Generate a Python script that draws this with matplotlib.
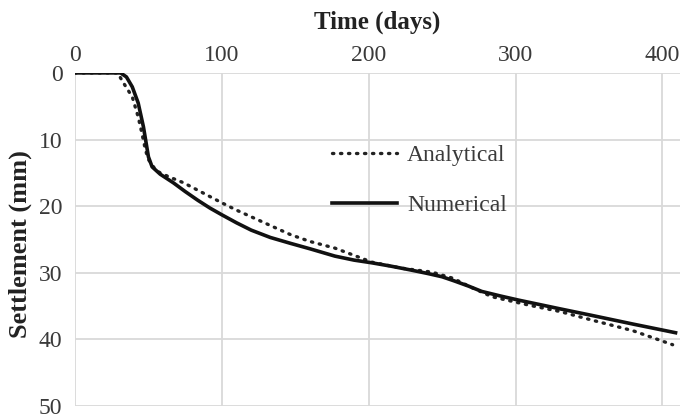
import numpy as np
import matplotlib
matplotlib.use('Agg')
import matplotlib.pyplot as plt

# data
num_days = [0, 20, 31, 35, 39, 43, 46.6, 50, 52.5, 58, 67, 75, 83.5, 92, 100, 110, 120, 133, 147, 160, 177, 190, 202,
	215, 229, 240, 250, 258, 268, 277, 290, 302, 330, 352, 380, 409]
num_settl = [0, 0, 0, 0.6, 2.1, 4.5, 8.1, 12.6, 14.1, 15.2, 16.5, 17.8, 19.1, 20.3, 21.3, 22.5, 23.6, 24.7, 25.6, 26.4, 27.5, 28.1, 28.5,
	29.0, 29.6, 30.1, 30.6, 31.2, 32.0, 32.8, 33.5, 34.1, 35.4, 36.4, 37.7, 39.0]

ana_days = [0, 20, 29, 33, 39, 43, 45.5, 48, 50, 55, 58, 64, 74, 87, 100, 110, 120, 133, 147, 160, 177, 195, 202,
	222, 243, 257, 270, 284, 310, 330, 352, 380, 407]
ana_settl = [0, 0, 0, 1.5, 3.6, 6.6, 9.0, 11.6, 13.0, 14.6, 15.0, 15.6, 16.5, 18.0, 19.5, 20.6, 21.6, 22.9, 24.3, 25.3, 26.3, 27.8, 28.4,
	29.3, 29.9, 30.8, 32.2, 33.6, 34.9, 35.8, 37.1, 38.7, 40.8]

xticks = [0, 100, 200, 300, 400]
yticks = [0, 10, 20, 30, 40, 50]

plt.rcParams['font.family'] = ['Liberation Serif', 'DejaVu Serif']

fig = plt.figure(figsize=(6.82, 4.19), dpi=100)
ax = fig.add_axes([0.110, 0.031, 0.887, 0.795])

ax.plot(ana_days, ana_settl, color='#222222', lw=2.4, ls=(0, (0.4, 2.0)),
	dash_capstyle='round', label='Analytical')
ax.plot(num_days, num_settl, color='#111111', lw=2.6, label='Numerical')

ax.set_xlim(0, 412)
ax.set_ylim(50, 0)
ax.set_xticks(xticks)
ax.set_yticks(yticks)
ax.xaxis.tick_top()
ax.xaxis.set_label_position('top')
ax.tick_params(length=0, labelsize=17, colors='#3a3a3a', pad=5)
ax.tick_params(axis='y', pad=9)
ax.grid(True, color='#d9d9d9', lw=1.3)
ax.set_axisbelow(True)
for s in ax.spines.values():
	s.set_visible(False)

ax.set_xlabel('Time (days)', fontsize=18, fontweight='bold', labelpad=12, color='#222222')
ax.set_ylabel('Settlement (mm)', fontsize=19, fontweight='bold', color='#222222')
ax.yaxis.set_label_coords(-0.071, 0.486)

leg = ax.legend(loc='upper left', bbox_to_anchor=(0.425, 0.785), frameon=False,
	fontsize=17, handlelength=2.75, handletextpad=0.42, labelspacing=1.2,
	borderpad=0, borderaxespad=0)
for t in leg.get_texts():
	t.set_color('#3a3a3a')

fig.savefig('out.png', dpi=100)
